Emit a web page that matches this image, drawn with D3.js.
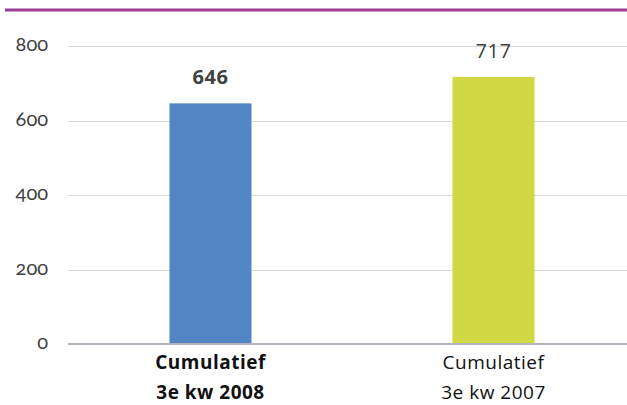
<!DOCTYPE html>
<html lang="nl">
<head>
<meta charset="utf-8">
<script src="https://cdn.jsdelivr.net/npm/d3@7"></script>
<style>
  html, body { margin: 0; padding: 0; background: #fff; }
  svg { display: block; }
</style>
</head>
<body>
<svg id="chart" width="627" height="405"></svg>
<script>
// Cumulative totals, third quarter
const categories = [["Cumulatief", "3e kw 2008"], ["Cumulatief", "3e kw 2007"]];
const values = [646, 717];
const colors = ["#5384c4", "#d0d843"];
const emphasis = [true, false];
const yTicks = [0, 200, 400, 600, 800];

const W = 627, H = 405;
const margin = { left: 68, right: 0, top: 46, bottom: 61 };
const svg = d3.select("#chart");

const x = d3.scaleBand()
  .domain(d3.range(categories.length))
  .range([69, 635])
  .paddingInner(0)
  .paddingOuter(0);

const y = d3.scaleLinear()
  .domain([0, 800])
  .range([344, 46]);

// header rule
svg.append("line")
  .attr("x1", 5).attr("x2", W)
  .attr("y1", 10).attr("y2", 10)
  .attr("stroke", "#9c3f98").attr("stroke-width", 3);

// gridlines
svg.append("g")
  .selectAll("line")
  .data(yTicks.filter(d => d > 0))
  .join("line")
  .attr("x1", margin.left).attr("x2", W)
  .attr("y1", d => Math.round(y(d)) + 0.5).attr("y2", d => Math.round(y(d)) + 0.5)
  .attr("stroke", "#d9d9d9").attr("stroke-width", 1);

// y tick labels with old-style figures, right-aligned at x = 48
const fmt = y.tickFormat();
yTicks.forEach(v => {
  const t = svg.append("text")
    .attr("x", 0)
    .attr("y", y(v) + 5)
    .attr("font-family", "Lato")
    .attr("font-size", 20)
    .attr("fill", "#404040")
    .style("font-feature-settings", "'onum'")
    .text(fmt(v));
  t.attr("x", 48 - t.node().getComputedTextLength());
});

// bars
const barW = 82;
svg.append("g")
  .selectAll("rect")
  .data(values)
  .join("rect")
  .attr("x", (d, i) => x(i) + x.bandwidth() / 2 - barW / 2)
  .attr("width", barW)
  .attr("y", d => y(d))
  .attr("height", d => y(0) - y(d))
  .attr("fill", (d, i) => colors[i]);

// baseline
svg.append("line")
  .attr("x1", margin.left).attr("x2", W)
  .attr("y1", y(0)).attr("y2", y(0))
  .attr("stroke", "#b4b4bc").attr("stroke-width", 2);

// value labels
svg.append("g")
  .selectAll("text")
  .data(values)
  .join("text")
  .attr("x", (d, i) => x(i) + x.bandwidth() / 2)
  .attr("y", d => y(d) - 26)
  .attr("dy", "0.35em")
  .attr("text-anchor", "middle")
  .attr("font-family", "'Open Sans', 'Noto Sans', sans-serif")
  .attr("font-size", 20)
  .attr("letter-spacing", 0.5)
  .attr("font-weight", (d, i) => emphasis[i] ? "bold" : "normal")
  .attr("fill", "#404040")
  .text(d => d);

// category labels
const cat = svg.append("g")
  .selectAll("text")
  .data(categories)
  .join("text")
  .attr("x", (d, i) => x(i) + x.bandwidth() / 2)
  .attr("text-anchor", "middle")
  .attr("font-family", "'Open Sans', 'Noto Sans', sans-serif")
  .attr("font-size", 19)
  .attr("letter-spacing", 0.5)
  .attr("font-weight", (d, i) => emphasis[i] ? "bold" : "normal")
  .attr("fill", "#111");
cat.selectAll("tspan")
  .data(d => d)
  .join("tspan")
  .attr("x", function () { return d3.select(this.parentNode).attr("x"); })
  .attr("y", (d, j) => 362 + j * 30)
  .attr("dy", "0.35em")
  .text(d => d);
</script>
</body>
</html>
